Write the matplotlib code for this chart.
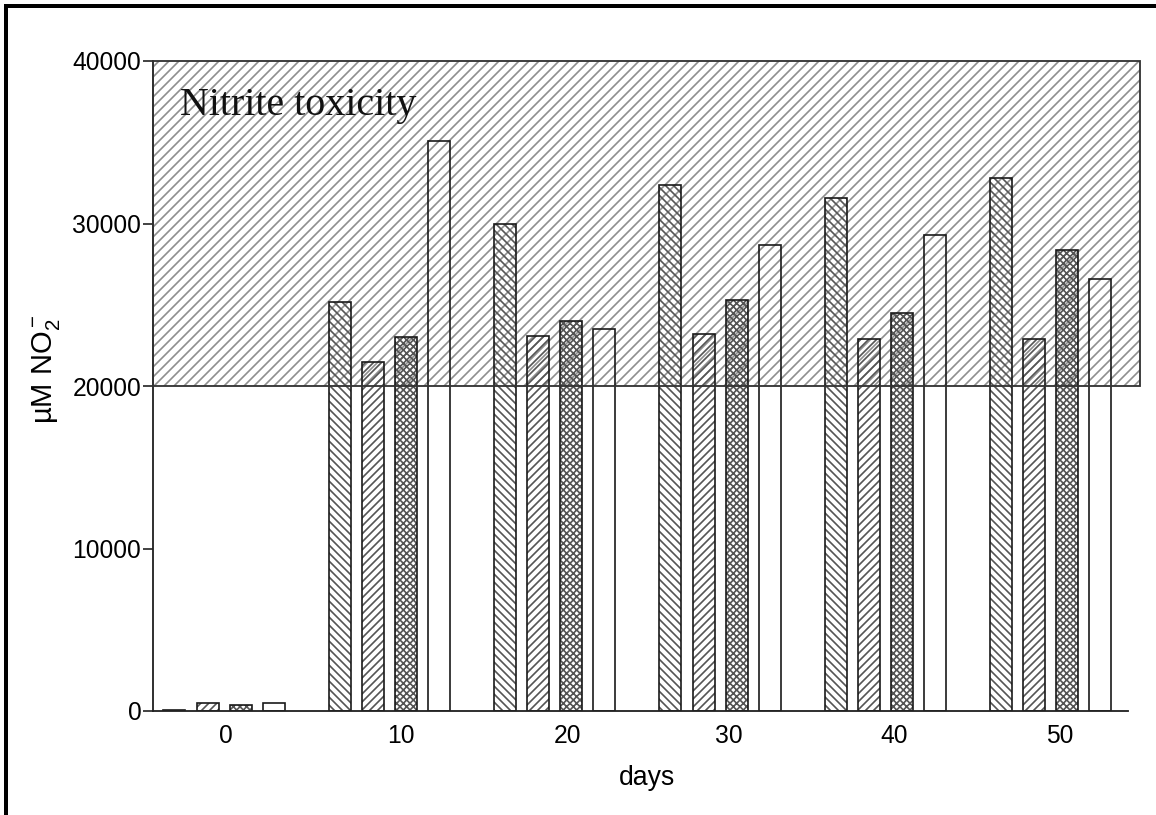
import matplotlib
matplotlib.use("Agg")
import matplotlib.pyplot as plt
from matplotlib.patches import Rectangle
from matplotlib.lines import Line2D
import numpy as np

plt.rcParams['font.family'] = ['Liberation Sans', 'DejaVu Sans']
plt.rcParams['mathtext.fontset'] = 'custom'
plt.rcParams['mathtext.rm'] = 'Liberation Sans'
plt.rcParams['mathtext.it'] = 'Liberation Sans:italic'
plt.rcParams['hatch.linewidth'] = 1.0

# ---- data ----
days = [0, 10, 20, 30, 40, 50]
series1 = [60, 25200, 30000, 32400, 31600, 32800]
series2 = [470, 21500, 23100, 23200, 22900, 22900]
series3 = [370, 23000, 24000, 25300, 24500, 28400]
series4 = [470, 35100, 23500, 28700, 29300, 26600]
tick_labels = ["0", "10", "20", "30", "40", "50"]
y_ticks = [0, 10000, 20000, 30000, 40000]
tox_low, tox_high = 20000, 40000

series = [series1, series2, series3, series4]
hatches = ['\\\\\\\\\\', '/////', 'xxxxxx', '']
offsets = [-3, -1, 1, 3]
bar_w = 1.33

DPI = 120
fig = plt.figure(figsize=(1156 / DPI, 815 / DPI), dpi=DPI)
ax = fig.add_axes([153 / 1156, 1 - 711 / 815, (1140 - 153) / 1156, (711 - 61) / 815])

x0, x1 = -4.3, 55.4
ax.set_xlim(x0, x1)
ax.set_ylim(0, 40000)

# toxicity region: hatch then border
ax.add_patch(Rectangle((x0, tox_low), x1 - x0, tox_high - tox_low, facecolor='none',
                       edgecolor='#8f8f8f', hatch='////', linewidth=0, zorder=1))
ax.add_patch(Rectangle((x0, tox_low), x1 - x0, tox_high - tox_low, facecolor='none',
                       edgecolor='#333333', linewidth=1.1, zorder=3, clip_on=False))
ax.text(-2.67, 36700, "Nitrite toxicity", family='Liberation Serif', fontsize=24,
        va='baseline', ha='left', color='#111111', zorder=4)

d = np.array(days, dtype=float)
for vals, h, off in zip(series, hatches, offsets):
    # hatch layer (grey) and outline layer (dark)
    ax.bar(d + off, vals, width=bar_w, facecolor='none', edgecolor='#555555',
           hatch=h, linewidth=0, zorder=2)
    ax.bar(d + off, vals, width=bar_w, facecolor='none', edgecolor='#1a1a1a',
           linewidth=1.0, zorder=2.5)

ax.spines['top'].set_visible(False)
ax.spines['right'].set_visible(False)
ax.spines['bottom'].set_bounds(x0, 54.66)
for s in ['left', 'bottom']:
    ax.spines[s].set_linewidth(1.1)
    ax.spines[s].set_color('#222222')

ax.set_yticks(y_ticks)
ax.set_yticklabels([str(v) for v in y_ticks])
label_shift = [0.1, 0.7, 0.75, 0.5, 0.55, 0.55]
ax.set_xticks([dd + s for dd, s in zip(days, label_shift)])
ax.set_xticklabels(tick_labels)
ax.tick_params(axis='y', length=6, width=1.0, pad=1, labelsize=14.8, color='#222222')
ax.tick_params(axis='x', length=0, pad=8, labelsize=14.8)

ax.set_xlabel("days", fontsize=16, labelpad=10)
ax.set_ylabel("µM NO$_2^-$", fontsize=17.5)
ax.yaxis.set_label_coords(-0.092, 0.526)

# figure frame (left and top only)
fig.add_artist(Line2D([5.5 / 1156, 5.5 / 1156], [0, 1 - 5.5 / 815], transform=fig.transFigure,
                      color='black', linewidth=2.4, solid_capstyle='projecting'))
fig.add_artist(Line2D([5.5 / 1156, 1], [1 - 5.5 / 815, 1 - 5.5 / 815], transform=fig.transFigure,
                      color='black', linewidth=2.4, solid_capstyle='projecting'))

fig.savefig("out.png", dpi=DPI)
